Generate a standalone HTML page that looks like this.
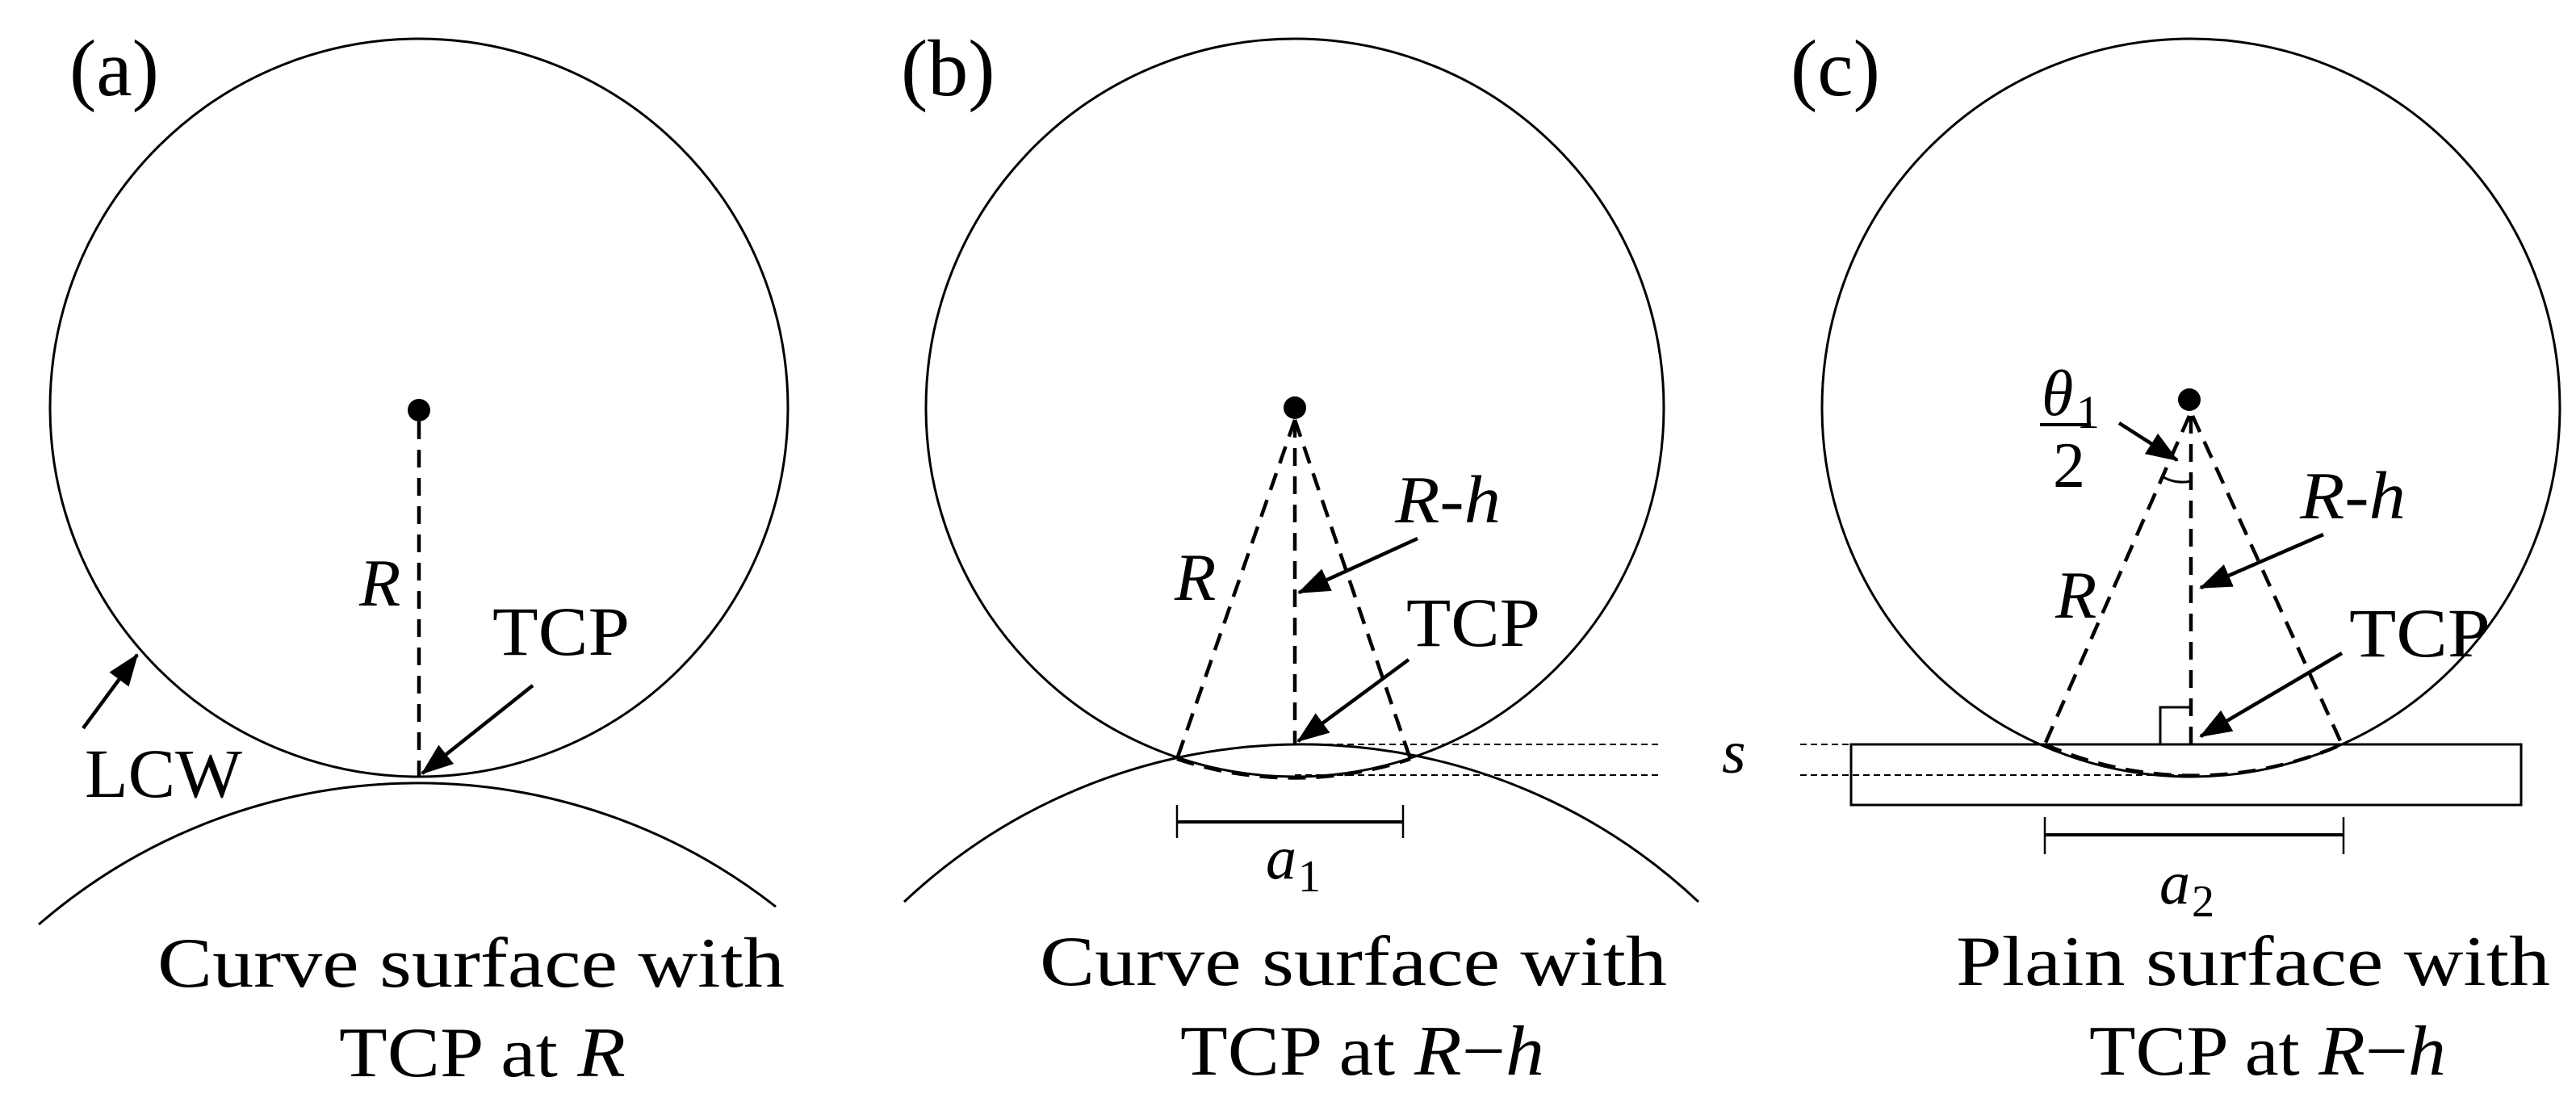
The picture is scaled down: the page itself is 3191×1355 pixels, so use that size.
<!DOCTYPE html>
<html><head><meta charset="utf-8"><style>
html,body{margin:0;padding:0;background:#fff}
svg{display:block}
text{font-family:"Liberation Serif",serif;fill:#000}
</style></head><body>
<svg width="3191" height="1355" viewBox="0 0 3191 1355" xmlns="http://www.w3.org/2000/svg">
<defs>
<marker id="ah" markerWidth="40" markerHeight="30" refX="38" refY="15" orient="auto" markerUnits="userSpaceOnUse">
<path d="M0,0 L40,15 L0,30 z" fill="#000"/>
</marker>
</defs>
<g fill="none" stroke="#000" stroke-width="3">
<circle cx="519" cy="505" r="457"/>
<path d="M48,1145 A718,718 0 0 1 961,1123"/>
<circle cx="1604" cy="505" r="457"/>
<path d="M1120,1117 A718,718 0 0 1 2104,1117"/>
<circle cx="2714" cy="505" r="457"/>
<rect x="2293" y="922" width="830" height="75"/>
<path d="M2676,922 V876 H2714"/>
<path d="M2678,590 Q2695,600 2714,596"/>
</g>
<circle cx="519" cy="508" r="14"/>
<circle cx="1604" cy="505" r="14"/>
<circle cx="2712" cy="495" r="14"/>
<g fill="none" stroke="#000" stroke-width="4.5" stroke-dasharray="22 13">
<line x1="519" y1="522" x2="519" y2="962"/>
<line x1="1604" y1="520" x2="1604" y2="922"/>
<line x1="1604" y1="520" x2="1458" y2="940"/>
<line x1="1604" y1="520" x2="1747" y2="940"/>
<path d="M1458,940 A457,457 0 0 0 1747,940"/>
<line x1="2714" y1="515" x2="2714" y2="922"/>
<line x1="2712" y1="515" x2="2533" y2="922"/>
<line x1="2716" y1="515" x2="2901" y2="922"/>
<path d="M2533,922 A457,457 0 0 0 2901,922"/>
</g>
<g stroke="#000" stroke-width="2" stroke-dasharray="8 5">
<line x1="1604" y1="922" x2="2057" y2="922"/>
<line x1="1604" y1="960" x2="2057" y2="960"/>
<line x1="2230" y1="922" x2="2293" y2="922"/>
<line x1="2230" y1="960" x2="2714" y2="960"/>
</g>
<g stroke="#000" stroke-width="4">
<line x1="1458" y1="1018" x2="1738" y2="1018"/>
<line x1="2533" y1="1034" x2="2903" y2="1034"/>
</g>
<g stroke="#000" stroke-width="2.5">
<line x1="1458" y1="997" x2="1458" y2="1038"/>
<line x1="1738" y1="997" x2="1738" y2="1038"/>
<line x1="2533" y1="1012" x2="2533" y2="1058"/>
<line x1="2903" y1="1012" x2="2903" y2="1058"/>
</g>
<g stroke="#000" stroke-width="4.5" marker-end="url(#ah)">
<line x1="660" y1="849" x2="523" y2="958"/>
<line x1="103" y1="902" x2="170" y2="811"/>
<line x1="1756" y1="667" x2="1609" y2="734"/>
<line x1="1745" y1="817" x2="1608" y2="918"/>
<line x1="2625" y1="524" x2="2697" y2="570"/>
<line x1="2878" y1="662" x2="2726" y2="728"/>
<line x1="2901" y1="809" x2="2726" y2="912"/>
</g>
<text x="86" y="118" font-size="100">(a)</text>
<text x="1116" y="118" font-size="100">(b)</text>
<text x="2218" y="118" font-size="100">(c)</text>
<text x="445" y="750" font-size="84" font-style="italic">R</text>
<text x="610" y="811" font-size="86" textLength="170" lengthAdjust="spacingAndGlyphs">TCP</text>
<text x="105" y="987" font-size="86" textLength="195" lengthAdjust="spacingAndGlyphs">LCW</text>
<text x="195" y="1222" font-size="88" textLength="777" lengthAdjust="spacingAndGlyphs">Curve surface with</text>
<text x="420" y="1333" font-size="88" textLength="355" lengthAdjust="spacingAndGlyphs">TCP at <tspan font-style="italic">R</tspan></text>

<text x="1455" y="743" font-size="84" font-style="italic">R</text>
<text x="1728" y="647" font-size="84" font-style="italic" textLength="131" lengthAdjust="spacingAndGlyphs">R-h</text>
<text x="1742" y="800" font-size="86" textLength="166" lengthAdjust="spacingAndGlyphs">TCP</text>
<text x="2133" y="957" font-size="76" font-style="italic">s</text>
<text x="1568" y="1088" font-size="76" font-style="italic">a</text>
<text x="1608" y="1104" font-size="56">1</text>
<text x="1288" y="1220" font-size="88" textLength="777" lengthAdjust="spacingAndGlyphs">Curve surface with</text>
<text x="1462" y="1331" font-size="88" textLength="451" lengthAdjust="spacingAndGlyphs">TCP at <tspan font-style="italic">R</tspan>−<tspan font-style="italic">h</tspan></text>

<text x="2529" y="514" font-size="80" font-style="italic">θ</text>
<text x="2572" y="530" font-size="58">1</text>
<line x1="2527" y1="526" x2="2590" y2="526" stroke="#000" stroke-width="4"/>
<text x="2543" y="603" font-size="80">2</text>
<text x="2546" y="765" font-size="84" font-style="italic">R</text>
<text x="2849" y="642" font-size="84" font-style="italic" textLength="131" lengthAdjust="spacingAndGlyphs">R-h</text>
<text x="2910" y="813" font-size="86" textLength="175" lengthAdjust="spacingAndGlyphs">TCP</text>
<text x="2675" y="1119" font-size="76" font-style="italic">a</text>
<text x="2715" y="1135" font-size="56">2</text>
<text x="2423" y="1220" font-size="88" textLength="736" lengthAdjust="spacingAndGlyphs">Plain surface with</text>
<text x="2588" y="1331" font-size="88" textLength="442" lengthAdjust="spacingAndGlyphs">TCP at <tspan font-style="italic">R</tspan>−<tspan font-style="italic">h</tspan></text>
</svg>
</body></html>
